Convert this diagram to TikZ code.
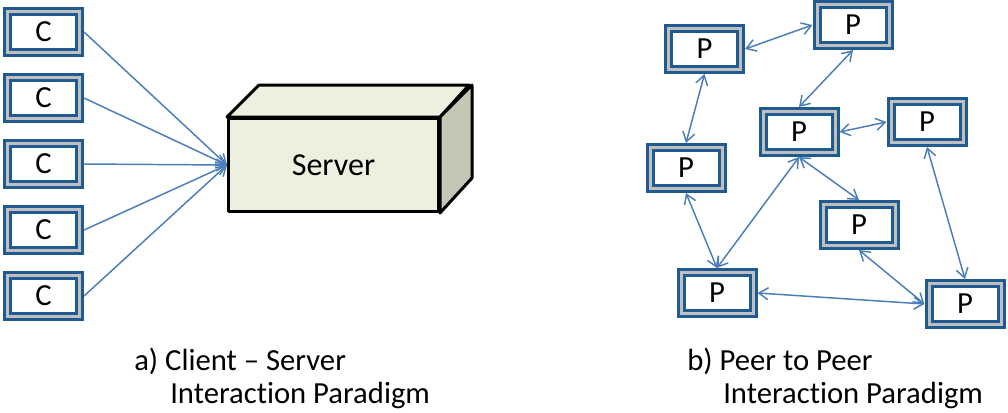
\documentclass[tikz,border=0pt]{standalone}
\usepackage{fontspec}
\setmainfont{Carlito}[Ligatures={TeX,NoCommon}]
\usetikzlibrary{arrows.meta}
\definecolor{boxblue}{HTML}{1F5A90}
\definecolor{boxgray}{HTML}{BFBFBF}
\definecolor{linkblue}{HTML}{4A7EBB}
\definecolor{srvfront}{HTML}{EBF1DE}
\definecolor{srvside}{HTML}{C3C8B5}
\tikzstyle{terminal} = [rectangle, minimum width=54pt, minimum height=30.75pt, inner sep=0pt, draw=boxblue, line width=2.25pt, double=boxgray, double distance=2.25pt, fill=white, outer sep=3.4pt, font=\fontsize{23}{27}\selectfont]
\tikzstyle{arrow} = [draw=linkblue, line width=1.1pt, -{Straight Barb[length=7pt,width=9pt]}]
\tikzstyle{twoway} = [draw=linkblue, line width=1.1pt, {Straight Barb[length=7pt,width=9pt]}-{Straight Barb[length=7pt,width=9pt]}]
\tikzstyle{caption} = [anchor=west, inner sep=0pt, font=\fontsize{23}{27}\selectfont]

\begin{document}
\begin{tikzpicture}[x=0.75pt, y=-0.75pt, node distance=49.5pt]
        \useasboundingbox (0,0) rectangle (1008,412);

        % client - server
        \node (cone) [terminal] at (43.5,32) {C};
        \node (ctwo) [terminal, below of = cone] {C};
        \node (cthree) [terminal, below of = ctwo] {C};
        \node (cfour) [terminal, below of = cthree] {C};
        \node (cfive) [terminal, below of = cfour] {C};

        \node (server) [rectangle, minimum width=157.5pt, minimum height=69.75pt, draw=black, line width=2.25pt, fill=srvfront, line join=round, font=\fontsize{24}{28}\selectfont] at (333.5,165) {Server};
        \draw [line width=2.25pt, line join=round, fill=srvfront] (server.north west) -- ++(32,-32) -- ++(210,0) -- (server.north east) -- cycle;
        \draw [line width=2.25pt, line join=round, fill=srvside] (server.north east) -- ++(32,-32) -- ++(0,93) -- (server.south east) -- cycle;

        \foreach \c in {cone, ctwo, cthree, cfour, cfive}
            \draw [arrow] (\c.east) -- (server.west);

        % peer to peer
        \node (pone) [terminal] at (704.5,49) {P};
        \node (ptwo) [terminal] at (853,25) {P};
        \node (pthree) [terminal] at (799,132) {P};
        \node (pfour) [terminal] at (927,122) {P};
        \node (pfive) [terminal] at (686,168) {P};
        \node (psix) [terminal] at (859,225) {P};
        \node (pseven) [terminal] at (717,293) {P};
        \node (peight) [terminal] at (965,304) {P};

        \draw [twoway] (pone.east) -- (ptwo.west);
        \draw [twoway] (ptwo.south) -- (pthree.north);
        \draw [twoway] (pone.south) -- (pfive.north);
        \draw [twoway] (pthree.east) -- (pfour.west);
        \draw [twoway] (pthree.south) -- (pseven.north);
        \draw [twoway] (pthree.south) -- (psix.north);
        \draw [twoway] (pfive.south) -- (pseven.north);
        \draw [twoway] (pfour.south) -- (peight.north);
        \draw [twoway] (psix.south) -- (peight.west);
        \draw [twoway] (pseven.east) -- (peight.west);

        % captions
        \node (capaone) [caption] at (134,361) {a) Client – Server};
        \node (capatwo) [caption] at (170,395) {Interaction Paradigm};
        \node (capbone) [caption] at (687,361) {b) Peer to Peer};
        \node (capbtwo) [caption] at (723,395) {Interaction Paradigm};

    \end{tikzpicture}
\end{document}
